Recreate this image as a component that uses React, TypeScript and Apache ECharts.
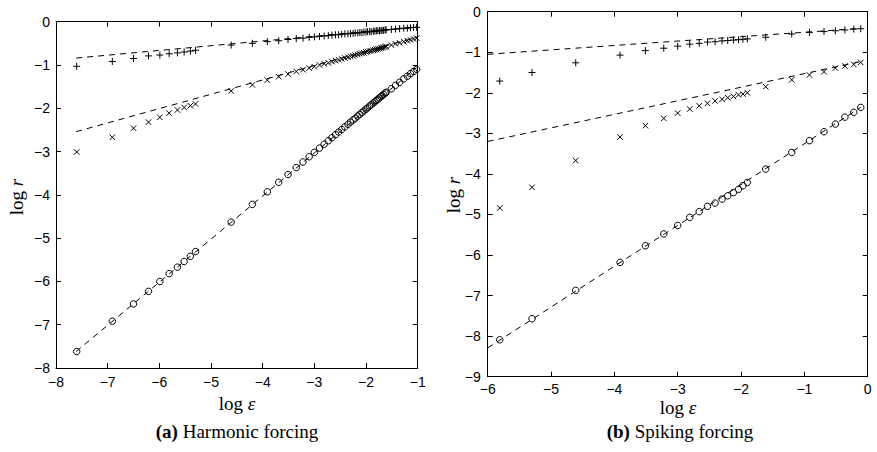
import React, { useEffect, useRef } from "react";
import * as echarts from "echarts";

// ---------- (a) Harmonic forcing ----------
const harmLogEps = [
  -7.6, -6.91, -6.5, -6.21, -5.99, -5.81, -5.65, -5.52, -5.4, -5.3,
  -4.61, -4.2, -3.91, -3.69, -3.51, -3.35, -3.22, -3.1, -3.0, -2.9,
  -2.81, -2.73, -2.66, -2.59, -2.53, -2.47, -2.41, -2.35, -2.3, -2.25,
  -2.21, -2.16, -2.12, -2.08, -2.04, -2.0, -1.97, -1.93, -1.9, -1.86,
  -1.83, -1.8, -1.77, -1.74, -1.71, -1.69, -1.66, -1.63, -1.61,
  -1.51, -1.43, -1.35, -1.27, -1.2, -1.14, -1.08, -1.02,
];
const harmPlus = [
  -1.03, -0.92, -0.85, -0.79, -0.77, -0.74, -0.72, -0.7, -0.68, -0.66,
  -0.54, -0.5, -0.46, -0.44, -0.41, -0.39, -0.38, -0.36, -0.35, -0.34,
  -0.33, -0.32, -0.31, -0.3, -0.3, -0.29, -0.28, -0.28, -0.27, -0.27,
  -0.26, -0.26, -0.25, -0.25, -0.24, -0.24, -0.23, -0.23, -0.23, -0.22,
  -0.22, -0.21, -0.21, -0.21, -0.2, -0.2, -0.2, -0.19, -0.19,
  -0.18, -0.17, -0.16, -0.15, -0.15, -0.14, -0.13, -0.13,
];
const harmCross = [
  -3.01, -2.67, -2.46, -2.32, -2.21, -2.11, -2.04, -1.98, -1.94, -1.9,
  -1.6, -1.46, -1.35, -1.27, -1.21, -1.15, -1.11, -1.07, -1.04, -1.0,
  -0.97, -0.95, -0.92, -0.9, -0.88, -0.86, -0.84, -0.82, -0.8, -0.79,
  -0.77, -0.76, -0.74, -0.73, -0.72, -0.7, -0.69, -0.68, -0.67, -0.66,
  -0.65, -0.64, -0.63, -0.62, -0.61, -0.6, -0.59, -0.58, -0.57,
  -0.54, -0.51, -0.49, -0.46, -0.44, -0.42, -0.4, -0.38,
];
const harmCircle = [
  -7.62, -6.92, -6.52, -6.23, -6.0, -5.82, -5.67, -5.54, -5.42, -5.31,
  -4.63, -4.22, -3.93, -3.71, -3.53, -3.37, -3.24, -3.12, -3.02, -2.92,
  -2.83, -2.75, -2.68, -2.61, -2.55, -2.49, -2.43, -2.37, -2.32, -2.27,
  -2.23, -2.18, -2.14, -2.1, -2.06, -2.02, -1.99, -1.95, -1.92, -1.88,
  -1.85, -1.82, -1.79, -1.76, -1.73, -1.71, -1.68, -1.65, -1.63,
  -1.55, -1.47, -1.4, -1.32, -1.26, -1.2, -1.15, -1.1,
];
// fitted (dashed) lines: [x0, y0, x1, y1]
const harmPlusFit = [-7.61, -0.84, -1.02, -0.12];
const harmCrossFit = [-7.61, -2.54, -1.02, -0.36];
const harmCircleFit = [-7.61, -7.62, -1.02, -1.06];

// ---------- (b) Spiking forcing ----------
const spikeLogEps = [
  -5.81, -5.3, -4.61, -3.91, -3.51, -3.22, -3.0, -2.81, -2.66, -2.53,
  -2.41, -2.3, -2.21, -2.12, -2.04, -1.97, -1.9, -1.61, -1.2, -0.92,
  -0.69, -0.51, -0.36, -0.22, -0.11,
];
const spikePlus = [
  -1.71, -1.5, -1.26, -1.07, -0.96, -0.9, -0.85, -0.8, -0.78, -0.75,
  -0.74, -0.72, -0.71, -0.7, -0.69, -0.68, -0.67, -0.63, -0.55, -0.51,
  -0.49, -0.47, -0.45, -0.43, -0.42,
];
const spikeCross = [
  -4.84, -4.33, -3.67, -3.09, -2.81, -2.63, -2.5, -2.4, -2.32, -2.26,
  -2.2, -2.16, -2.12, -2.09, -2.05, -2.03, -2.0, -1.85, -1.68, -1.56,
  -1.48, -1.39, -1.34, -1.3, -1.25,
];
const spikeCircle = [
  -8.09, -7.57, -6.87, -6.18, -5.77, -5.48, -5.27, -5.07, -4.93, -4.8,
  -4.72, -4.62, -4.54, -4.46, -4.38, -4.29, -4.21, -3.88, -3.47, -3.18,
  -2.96, -2.77, -2.6, -2.48, -2.36,
];
const spikePlusFit = [-6, -1.05, -0.11, -0.41];
const spikeCrossFit = [-6, -3.2, -0.11, -1.23];
const spikeCircleFit = [-6, -8.29, -0.11, -2.36];

const harmXTicks = { min: -8, max: -1 };
const harmYTicks = { min: -8, max: 0 };
const spikeXTicks = { min: -6, max: 0 };
const spikeYTicks = { min: -9, max: 0 };

const PLUS = "path://M5,0L5,10M0,5L10,5";
const CROSS = "path://M0,0L10,10M0,10L10,0";
const SANS = "'Liberation Sans', Arial, Helvetica, sans-serif";
const SERIF = "'Liberation Serif', 'Times New Roman', 'DejaVu Serif', serif";

const fmt = (v: number) => (v < 0 ? "\u2212" + Math.abs(v) : String(v));

function zip(xs: number[], ys: number[]) {
  return xs.map((x, i) => [x, ys[i]]);
}

function axis(
  dim: "x" | "y",
  gridIndex: number,
  range: { min: number; max: number },
  main: boolean,
  margin: number
) {
  const position = dim === "x" ? (main ? "bottom" : "top") : main ? "left" : "right";
  return {
    type: "value",
    gridIndex,
    position,
    min: range.min,
    max: range.max,
    interval: 1,
    axisLine: { show: true, onZero: false, lineStyle: { color: "#000", width: 1 } },
    axisTick: { show: true, inside: true, length: 5, lineStyle: { color: "#000", width: 1 } },
    axisLabel: {
      show: main,
      formatter: fmt,
      color: "#000",
      fontSize: 14,
      fontFamily: SANS,
      margin,
      showMinLabel: true,
      showMaxLabel: true,
    },
    splitLine: { show: false },
  };
}

function fitLine(f: number[], xi: number, yi: number) {
  return {
    type: "line",
    xAxisIndex: xi,
    yAxisIndex: yi,
    data: [
      [f[0], f[1]],
      [f[2], f[3]],
    ],
    symbol: "none",
    showSymbol: false,
    silent: true,
    z: 1,
    lineStyle: { color: "#000", width: 1, type: [6, 5] },
  };
}

function scatter(data: number[][], symbol: string, size: number, xi: number, yi: number) {
  return {
    type: "scatter",
    xAxisIndex: xi,
    yAxisIndex: yi,
    data,
    symbol,
    symbolSize: size,
    z: 2,
    silent: true,
    itemStyle: { color: "transparent", borderColor: "#000", borderWidth: 1, opacity: 1 },
  };
}

export default function App() {
  const ref = useRef<HTMLDivElement>(null);
  useEffect(() => {
    document.body.style.margin = "0";
    const chart = echarts.init(ref.current!, null, { renderer: "svg" });
    const serifRich = {
      n: { fontFamily: SERIF, fontSize: 19, fill: "#000", color: "#000" },
      i: { fontFamily: SERIF, fontSize: 19, fontStyle: "italic", fill: "#000", color: "#000" },
      b: { fontFamily: SERIF, fontSize: 19, fontWeight: "bold", fill: "#000", color: "#000" },
      c: { fontFamily: SERIF, fontSize: 19, fill: "#000", color: "#000" },
    };
    const txt = (x: number, y: number, text: string, rotation = 0) => ({
      type: "text",
      x,
      y,
      rotation,
      style: {
        text,
        rich: serifRich,
        align: "center",
        verticalAlign: "middle",
        fill: "#000",
      },
    });
    chart.setOption({
      animation: false,
      backgroundColor: "#fff",
      grid: [
        { left: 56, top: 21.7, width: 361.7, height: 346.3 },
        { left: 487.7, top: 11.7, width: 380, height: 365 },
      ],
      xAxis: [
        axis("x", 0, harmXTicks, true, 7),
        axis("x", 0, harmXTicks, false, 7),
        axis("x", 1, spikeXTicks, true, 5),
        axis("x", 1, spikeXTicks, false, 5),
      ],
      yAxis: [
        axis("y", 0, harmYTicks, true, 6),
        axis("y", 0, harmYTicks, false, 6),
        axis("y", 1, spikeYTicks, true, 7),
        axis("y", 1, spikeYTicks, false, 7),
      ],
      series: [
        fitLine(harmPlusFit, 0, 0),
        fitLine(harmCrossFit, 0, 0),
        fitLine(harmCircleFit, 0, 0),
        scatter(zip(harmLogEps, harmPlus), PLUS, 7, 0, 0),
        scatter(zip(harmLogEps, harmCross), CROSS, 5.5, 0, 0),
        scatter(zip(harmLogEps, harmCircle), "circle", 6.5, 0, 0),
        fitLine(spikePlusFit, 2, 2),
        fitLine(spikeCrossFit, 2, 2),
        fitLine(spikeCircleFit, 2, 2),
        scatter(zip(spikeLogEps, spikePlus), PLUS, 7, 2, 2),
        scatter(zip(spikeLogEps, spikeCross), CROSS, 5.5, 2, 2),
        scatter(zip(spikeLogEps, spikeCircle), "circle", 6.5, 2, 2),
      ],
      graphic: [
        txt(16, 197, "{n|log }{i|r}", Math.PI / 2),
        txt(453, 195, "{n|log }{i|r}", Math.PI / 2),
        txt(237, 403, "{n|log }{i|ε}"),
        txt(678, 407, "{n|log }{i|ε}"),
        txt(237, 431, "{b|(a)}{c| Harmonic forcing}"),
        txt(680, 431, "{b|(b)}{c| Spiking forcing}"),
      ],
    });
    return () => chart.dispose();
  }, []);
  return <div ref={ref} style={{ width: 877, height: 452 }} />;
}
